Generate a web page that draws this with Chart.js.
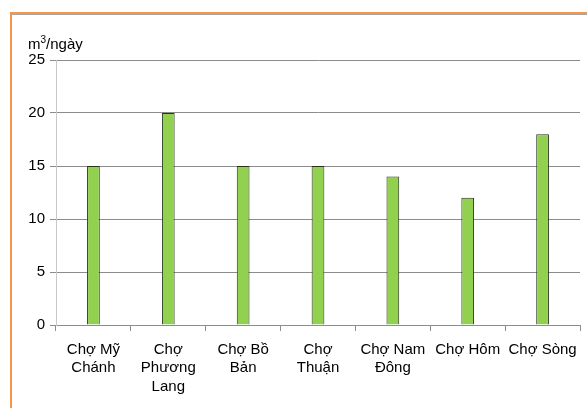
<!DOCTYPE html>
<html>
<head>
<meta charset="utf-8">
<script src="https://cdn.jsdelivr.net/npm/chart.js@4"></script>
<style>
  body { margin: 0; background: #fff; }
  #frame {
    position: absolute; left: 10px; top: 12px; width: 600px; height: 420px;
    border-top: 2px solid #f79646; border-left: 2px solid #f79646;
  }
  #frame .shade { border-top: 1px solid #a6a6a6; }
  #wrap { position: absolute; left: 0; top: 0; width: 587px; height: 408px; }
</style>
</head>
<body>
<div id="frame"><div class="shade"></div></div>
<div id="wrap"><canvas id="chart" width="587" height="408"></canvas></div>
<script>
const markets = [
  ['Chợ Mỹ', 'Chánh'],
  ['Chợ', 'Phương', 'Lang'],
  ['Chợ Bồ', 'Bản'],
  ['Chợ', 'Thuận'],
  ['Chợ Nam', 'Đông'],
  ['Chợ Hôm'],
  ['Chợ Sòng']
];
const volumes = [15, 20, 15, 15, 14, 12, 18];
const unitLabel = 'm³/ngày';

const family = 'Liberation Sans, Arial, sans-serif';
const font = { family: family, size: 15, lineHeight: 1.25 };

// axis unit written above the value axis
const unitTitle = {
  id: 'unitTitle',
  afterDraw(chart) {
    const ctx = chart.ctx;
    ctx.save();
    ctx.fillStyle = '#000';
    ctx.textBaseline = 'alphabetic';
    ctx.font = '15px ' + family;
    ctx.fillText('m', 28, 49);
    const mw = ctx.measureText('m').width;
    ctx.font = '10px ' + family;
    ctx.fillText('3', 28 + mw, 43);
    const sw = ctx.measureText('3').width;
    ctx.font = '15px ' + family;
    ctx.fillText('/ngày', 28 + mw + sw, 49);
    ctx.restore();
  }
};

new Chart(document.getElementById('chart'), {
  type: 'bar',
  data: {
    labels: markets,
    datasets: [{
      label: unitLabel,
      data: volumes,
      backgroundColor: '#92d050',
      borderColor: '#26331a',
      borderWidth: 1,
      barPercentage: 0.17,
      categoryPercentage: 1
    }]
  },
  options: {
    responsive: false,
    animation: false,
    layout: { padding: { top: 60, right: 7, left: 0, bottom: 0 } },
    plugins: { legend: { display: false }, tooltip: { enabled: false } },
    scales: {
      x: {
        afterFit(scale) { scale.height = 83; },
        border: { color: '#8c8c8c' },
        grid: { offset: true, drawOnChartArea: false, tickLength: 6, color: '#8c8c8c' },
        ticks: { color: '#000', font: font, padding: 9, maxRotation: 0, autoSkip: false }
      },
      y: {
        min: 0, max: 25,
        afterFit(scale) { scale.width = 56; },
        border: { color: '#c8c8c8' },
        grid: { color: '#8c8c8c', tickLength: 6 },
        ticks: { stepSize: 5, color: '#000', font: font, padding: 5 }
      }
    }
  },
  plugins: [unitTitle]
});
</script>
</body>
</html>
